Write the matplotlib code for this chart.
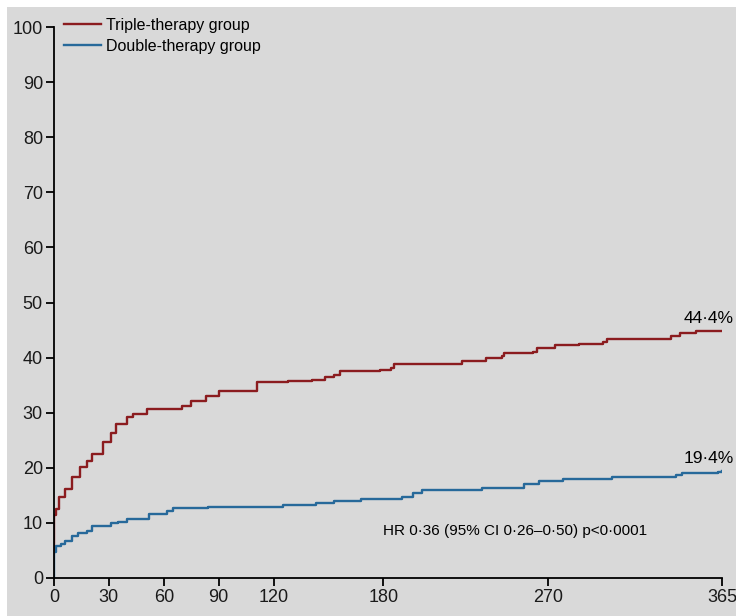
import matplotlib
matplotlib.use("Agg")
import matplotlib.pyplot as plt
from matplotlib.patches import Rectangle

plt.rcParams['font.family'] = ['Liberation Sans', 'DejaVu Sans']

# Kaplan-Meier style cumulative event curves (%)
triple_days = [0, 0, 0, 1, 3, 6, 10, 14, 18, 21, 27, 31, 34, 40, 43, 51, 70, 75, 83, 90,
               111, 128, 141, 148, 153, 156, 178, 184, 186, 223, 236, 245, 246, 262, 264,
               274, 287, 300, 302, 337, 342, 351, 365]
triple_vals = [4.7, 10.7, 11.5, 12.5, 14.7, 16.1, 18.3, 20.1, 21.2, 22.5, 24.6, 26.4, 27.9,
               29.3, 29.7, 30.6, 31.2, 32.1, 33.1, 34.0, 35.5, 35.7, 36.0, 36.4, 36.8, 37.5,
               37.7, 38.2, 38.8, 39.3, 39.9, 40.2, 40.8, 41.0, 41.8, 42.2, 42.5, 42.8, 43.4,
               44.0, 44.5, 44.8, 44.8]
double_days = [0, 0, 1, 4, 6, 10, 13, 18, 21, 31, 35, 40, 52, 62, 65, 84, 125, 143, 153, 168,
               190, 196, 201, 234, 257, 265, 278, 305, 340, 343, 363, 365]
double_vals = [0, 4.7, 5.8, 6.2, 6.7, 7.6, 8.2, 8.5, 9.4, 10.0, 10.2, 10.7, 11.6, 12.2, 12.7,
               12.9, 13.3, 13.6, 14.0, 14.4, 14.7, 15.4, 16.0, 16.4, 17.1, 17.6, 18.0, 18.4,
               18.7, 19.1, 19.3, 19.4]

x_ticks = [0, 30, 60, 90, 120, 180, 270, 365]
y_ticks = [0, 10, 20, 30, 40, 50, 60, 70, 80, 90, 100]
end_labels = ["44·4%", "19·4%"]
hr_text = "HR 0·36 (95% CI 0·26–0·50) p<0·0001"

red = '#8b1c1f'
blue = '#27699a'
bg = '#d9d9d9'

fig = plt.figure(figsize=(7.36, 6.16), dpi=100, facecolor='white')
# grey panel with a thin white margin on top and left
fig.patches.append(Rectangle((7/736, 0), 1, (616-7)/616, transform=fig.transFigure,
                             facecolor=bg, edgecolor='none', zorder=-1))
ax = fig.add_axes([54/736, 38/616, 668/736, 551/616])
ax.set_facecolor('none')

ax.step(triple_days, triple_vals, where='post', color=red, lw=1.7, label='Triple-therapy group')
ax.step(double_days, double_vals, where='post', color=blue, lw=1.7, label='Double-therapy group')

ax.set_xlim(0, 365)
ax.set_ylim(0, 100)
ax.set_xticks(x_ticks)
ax.set_yticks(y_ticks)
ax.tick_params(direction='out', length=6, width=1.3, labelsize=13, pad=2, labelcolor='#1a1a1a')
for s in ['top', 'right']:
    ax.spines[s].set_visible(False)
for s in ['left', 'bottom']:
    ax.spines[s].set_linewidth(1.3)

# end-of-curve labels, kept just inside the right edge
ax.text(371.5, 46.2, end_labels[0], fontsize=12.5, ha='right', clip_on=False)
ax.text(371.5, 20.8, end_labels[1], fontsize=12.5, ha='right', clip_on=False)
ax.text(180, 8.5, hr_text, fontsize=11, va='center')

ax.legend(loc='upper left', bbox_to_anchor=(0.006, 1.028), frameon=False, fontsize=11.5,
          handlelength=2.3, handletextpad=0.3, labelspacing=0.35, borderaxespad=0)

fig.savefig('out.png', dpi=100, facecolor='white')
